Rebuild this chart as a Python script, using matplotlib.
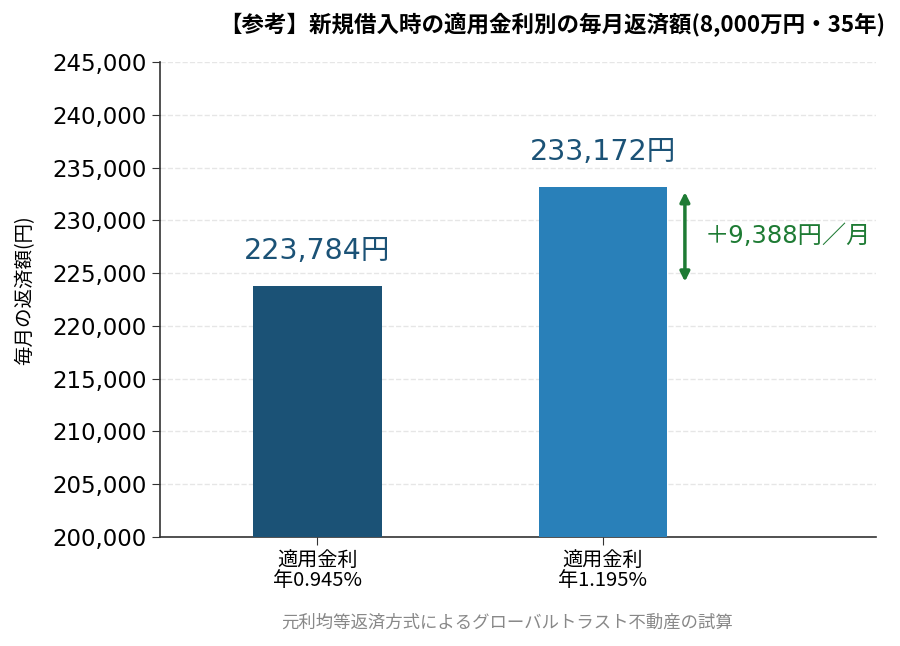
import numpy as np
import matplotlib.pyplot as plt

plt.rcParams['font.family'] = ['Noto Sans CJK JP', 'DejaVu Sans']
wide = ['DejaVu Sans', 'Noto Sans CJK JP']

categories = ['適用金利\n年0.945%', '適用金利\n年1.195%']
payments = [223784, 233172]
bar_colors = ['#1b5276', '#2980b9']
diff = payments[1] - payments[0]

fig = plt.figure(figsize=(9, 6.46), dpi=100)
ax = fig.add_axes([0.178, 0.169, 0.795, 0.735])

x = np.arange(len(categories))
ax.bar(x, payments, width=0.45, color=bar_colors, zorder=3)

for xi, v in zip(x, payments):
    ax.text(xi, v + 3300, f'{v:,}円', ha='center', va='center',
            fontsize=20.5, color='#1b5276', family=wide)

# 差額の矢印
ax.annotate('', xy=(1.287, payments[1] - 500), xytext=(1.287, payments[0] + 400),
            arrowprops=dict(arrowstyle='<|-|>', color='#1e7b34', lw=2.5,
                            mutation_scale=14, shrinkA=0, shrinkB=0))
ax.text(1.357, (payments[0] + payments[1]) / 2, f'＋{diff:,}円／月',
        ha='left', va='center', fontsize=17.5, color='#1e7b34', family=wide)

ax.set_xlim(-0.55, 1.955)
ax.set_ylim(200000, 245000)
yt = list(range(200000, 245001, 5000))
ax.set_yticks(yt)
ax.set_yticklabels([f'{t:,}' for t in yt], fontsize=16.5, family='DejaVu Sans')
ax.set_xticks(x)
ax.set_xticklabels(categories, fontsize=14.5, linespacing=0.95)
ax.tick_params(axis='both', length=6, color='#333333')
ax.set_ylabel('毎月の返済額(円)', fontsize=14)
ax.yaxis.set_label_coords(-0.175, 0.52)

ax.grid(axis='y', linestyle='--', color='#e6e6e6', lw=1, zorder=0)
for s in ['top', 'right']:
    ax.spines[s].set_visible(False)
for s in ['left', 'bottom']:
    ax.spines[s].set_color('#333333')
    ax.spines[s].set_linewidth(1.2)

fig.text(0.614, 0.962, '【参考】新規借入時の適用金利別の毎月返済額(8,000万円・35年)',
         ha='center', va='center', fontsize=16.2, fontweight='bold')
fig.text(0.563, 0.036, '元利均等返済方式によるグローバルトラスト不動産の試算',
         ha='center', va='center', fontsize=12.5, color='#888888')

fig.savefig('out.png', dpi=100)
